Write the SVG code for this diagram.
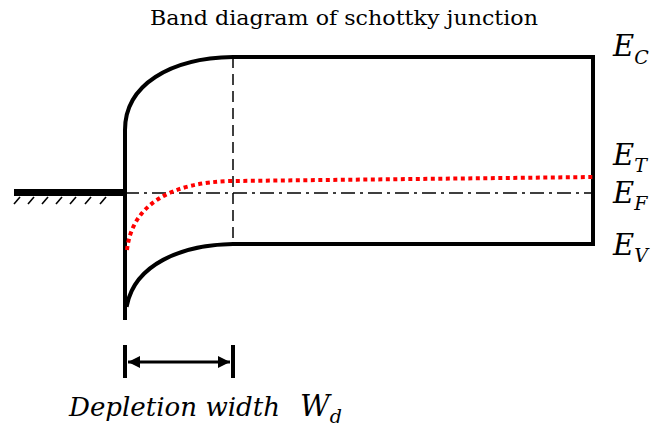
<svg xmlns="http://www.w3.org/2000/svg" width="657" height="428" viewBox="0 0 657 428">
<defs>
<style>
.band{fill:none;stroke:#000;stroke-width:4;stroke-linecap:square}
.lbl{font-family:"DejaVu Serif",serif;font-style:italic;font-size:29px;fill:#000}
.sub{font-size:19px}
.hatch{stroke:#000;stroke-width:1.6}
</style>
<marker id="ah" viewBox="0 0 10 10" refX="10" refY="5" markerWidth="4" markerHeight="4" orient="auto-start-reverse">
<path d="M0,0 L10,5 L0,10 z" fill="#000"/>
</marker>
</defs>
<rect width="657" height="428" fill="#fff"/>
<text x="150" y="25" font-family="DejaVu Serif,serif" font-size="20" textLength="388" lengthAdjust="spacingAndGlyphs" fill="#000">Band diagram of schottky junction</text>
<g id="metal">
<line x1="14" y1="192.5" x2="125" y2="192.5" stroke="#000" stroke-width="7"/>
<g class="hatch">
<line x1="14" y1="204" x2="20" y2="197"/>
<line x1="28" y1="204" x2="34" y2="197"/>
<line x1="42" y1="204" x2="48" y2="197"/>
<line x1="56" y1="204" x2="62" y2="197"/>
<line x1="70" y1="204" x2="76" y2="197"/>
<line x1="85" y1="204" x2="91" y2="197"/>
<line x1="100" y1="204" x2="106" y2="197"/>
</g>
</g>
<g id="connectors">
<path class="band" d="M125,318 L125,130 C125,85 170,58 233,57 L593,57 L593,244 L233,244 C180,245 135,265 127,305"/>
<line x1="233" y1="57" x2="233" y2="244" stroke="#000" stroke-width="1.5" stroke-dasharray="11 6"/>
<line x1="125" y1="193" x2="593" y2="193" stroke="#000" stroke-width="1.5" stroke-dasharray="14 5 3 5"/>
<path d="M127,250 C132,205 170,182 233,181 L593,177" fill="none" stroke="#f00" stroke-width="4" stroke-dasharray="4 3.5"/>
<line x1="125" y1="345" x2="125" y2="378" stroke="#000" stroke-width="4"/>
<line x1="233" y1="345" x2="233" y2="378" stroke="#000" stroke-width="4"/>
<line x1="128" y1="362" x2="230" y2="362" stroke="#000" stroke-width="3" marker-start="url(#ah)" marker-end="url(#ah)"/>
</g>
<g id="labels">
<text class="lbl" x="613" y="56">E<tspan class="sub" dy="8">C</tspan></text>
<text class="lbl" x="613" y="165">E<tspan class="sub" dy="7">T</tspan></text>
<text class="lbl" x="613" y="203">E<tspan class="sub" dy="7">F</tspan></text>
<text class="lbl" x="613" y="255">E<tspan class="sub" dy="7">V</tspan></text>
<text x="69" y="416" font-family="DejaVu Serif,serif" font-style="italic" font-size="26" textLength="211" lengthAdjust="spacingAndGlyphs" fill="#000">Depletion width</text>
<text class="lbl" x="300" y="416" font-size="27">W<tspan class="sub" dy="7">d</tspan></text>
</g>
</svg>
